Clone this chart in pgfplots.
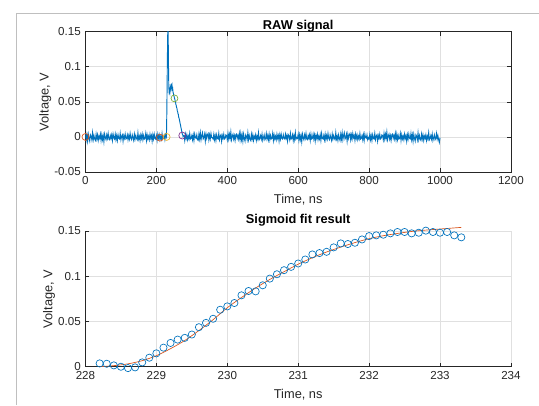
\documentclass[border=0pt]{standalone}
\usepackage{fontspec}
\setmainfont{Liberation Sans}
\usepackage{pgfplots}
\pgfplotsset{compat=1.18}

\definecolor{mblue}{rgb}{0,0.447,0.741}
\definecolor{morange}{rgb}{0.85,0.325,0.098}
\definecolor{myellow}{rgb}{0.929,0.694,0.125}
\definecolor{mpurple}{rgb}{0.494,0.184,0.556}
\definecolor{mgreen}{rgb}{0.466,0.674,0.188}
\definecolor{axcol}{rgb}{0.15,0.15,0.15}

\pgfplotsset{
  mstyle/.style={
    scale only axis,
    tick align=inside,
    major tick length=3pt,
    grid=major,
    grid style={black!12, line width=0.5pt},
    axis line style={axcol, line width=0.5pt},
    every tick/.style={axcol, line width=0.5pt},
    tick label style={font=\fontsize{8.7}{10}\selectfont, text=axcol},
    label style={font=\fontsize{9.6}{11}\selectfont, text=axcol},
    ylabel style={yshift=-4.5pt},
    title style={font=\bfseries\fontsize{9.6}{11}\selectfont, text=black},
    ylabel={Voltage, V},
    xlabel={Time, ns},
  }
}

\begin{document}
\begin{tikzpicture}
\useasboundingbox (0,0) rectangle (404.25pt,303.75pt);
\draw[black!25, line width=0.6pt] (12pt,0) -- (12pt,294pt) -- (404.25pt,294pt);

% RAW signal
\begin{axis}[
  mstyle,
  at={(64.1pt,174.75pt)}, anchor=south west,
  width=319.1pt, height=105.2pt,
  xmin=0, xmax=1200, ymin=-0.05, ymax=0.15,
  xtick={0,200,400,600,800,1000,1200},
  xticklabels={0,200,400,600,800,1000,1200},
  ytick={-0.05,0,0.05,0.1,0.15},
  yticklabels={-0.05,0,0.05,0.1,0.15},
  title={RAW signal},
  title style={yshift=-10pt},
]
\addplot[mblue, line width=0.7pt] coordinates {
(0,0.005)(2,-0.004)(4,0.003)(6,-0.006)(8,0.004)(10,-0.002)(12,-0.006)(14,0.003)(16,0.001)(18,-0.004)(20,0.006)(22,-0.004)(24,0.002)(26,-0.003)(28,-0.005)(30,0.004)(32,-0.003)(34,0.003)(36,-0.005)(38,0.001)
(40,-0.002)(42,0.004)(44,-0.005)(46,0.003)(48,-0.004)(50,0.002)(52,-0.007)(54,0.004)(56,-0.001)(58,-0.004)(60,0.003)(62,-0.002)(64,0.005)(66,-0.003)(68,-0.004)(70,0.002)(72,-0.002)(74,0.003)(76,-0.005)(78,0.004)
(80,-0.001)(82,-0.003)(84,0.004)(86,-0.004)(88,0.002)(90,-0.005)(92,0.003)(94,-0.002)(96,-0.003)(98,0.005)(100,-0.004)(102,0.001)(104,0.003)(106,-0.006)(108,0.002)(110,-0.002)(112,0.004)(114,-0.003)(116,-0.002)(118,0.003)
(120,-0.004)(122,0.002)(124,-0.003)(126,0.005)(128,-0.002)(130,-0.004)(132,0.003)(134,-0.001)(136,-0.005)(138,0.004)(140,-0.003)(142,0.002)(144,-0.002)(146,-0.004)(148,0.006)(150,-0.003)(152,0.001)(154,-0.005)(156,0.003)(158,-0.002)
(160,0.004)(162,-0.004)(164,0.002)(166,-0.003)(168,-0.002)(170,0.005)(172,-0.005)(174,0.003)(176,-0.003)(178,0.001)(180,-0.004)(182,0.004)(184,-0.002)(186,0.002)(188,-0.006)(190,0.003)(192,-0.003)(194,0.004)(196,-0.002)(198,-0.003)
(200,0.002)(202,-0.005)(204,0.004)(206,-0.002)(208,0.003)(210,-0.004)(212,0.001)(214,-0.003)(216,0.005)(218,-0.003)(220,-0.002)(222,0.002)(224,-0.004)(226,0.003)
(228,0.000)(228.6,0.008)(229.3,0.030)(230,0.060)(230.8,0.100)(231.6,0.135)(232.4,0.158)(232.9,0.165)(233.4,0.140)(234,0.110)(234.6,0.085)(235.2,0.070)(236,0.064)(237,0.066)(238,0.063)(239,0.070)(240,0.072)(241,0.069)(242,0.076)(243,0.072)(244,0.074)(245,0.068)(246,0.069)
(247,0.064)(248,0.062)(249,0.059)(250,0.058)(251,0.055)(252,0.054)(253,0.051)(254,0.050)(255,0.046)(256,0.045)(257,0.042)(258,0.041)(259,0.037)(260,0.036)(261,0.033)(262,0.032)(263,0.028)(264,0.027)(265,0.024)(266,0.022)(267,0.019)(268,0.017)(269,0.014)(270,0.012)(271,0.009)(272,0.007)(273,0.004)(274,0.004)(275,0.001)(276,0.002)
(278,0.002)(280,-0.005)(282,0.004)(284,-0.002)(286,0.003)(288,-0.004)(290,0.001)(292,-0.003)(294,0.005)(296,-0.003)(298,-0.002)(300,0.002)(302,-0.004)(304,0.003)(306,-0.005)(308,0.004)(310,-0.001)(312,-0.002)(314,0.003)(316,-0.004)
(318,-0.005)(320,0.004)(322,-0.003)(324,0.006)(326,-0.004)(328,0.002)(330,0.006)(332,-0.003)(334,-0.001)(336,0.004)(338,-0.006)(340,0.004)(342,-0.002)(344,0.003)(346,0.005)(348,-0.004)(350,0.003)(352,-0.003)(354,0.005)(356,-0.001)
(358,-0.001)(360,-0.003)(362,0.004)(364,-0.004)(366,0.002)(368,-0.005)(370,0.003)(372,-0.002)(374,-0.003)(376,0.005)(378,-0.004)(380,0.001)(382,0.003)(384,-0.006)(386,0.002)(388,-0.002)(390,0.004)(392,-0.003)(394,-0.002)(396,0.003)
(398,0.002)(400,-0.004)(402,0.005)(404,-0.003)(406,0.004)(408,-0.002)(410,0.007)(412,-0.004)(414,0.001)(416,0.004)(418,-0.003)(420,0.002)(422,-0.005)(424,0.003)(426,0.004)(428,-0.002)(430,0.002)(432,-0.003)(434,0.005)(436,-0.004)
(438,0.005)(440,-0.004)(442,0.003)(444,-0.006)(446,0.004)(448,-0.002)(450,-0.006)(452,0.003)(454,0.001)(456,-0.004)(458,0.006)(460,-0.004)(462,0.002)(464,-0.003)(466,-0.005)(468,0.004)(470,-0.003)(472,0.003)(474,-0.005)(476,0.001)
(478,-0.002)(480,0.003)(482,-0.005)(484,0.001)(486,-0.003)(488,0.006)(490,-0.004)(492,-0.002)(494,0.002)(496,-0.003)(498,0.004)(500,-0.005)(502,-0.001)(504,0.003)(506,-0.004)(508,-0.002)(510,0.005)(512,-0.003)(514,0.002)(516,-0.004)
(518,0.004)(520,-0.004)(522,0.002)(524,-0.003)(526,-0.002)(528,0.005)(530,-0.005)(532,0.003)(534,-0.003)(536,0.001)(538,-0.004)(540,0.004)(542,-0.002)(544,0.002)(546,-0.006)(548,0.003)(550,-0.003)(552,0.004)(554,-0.002)(556,-0.003)
(558,0.003)(560,-0.002)(562,-0.003)(564,0.004)(566,-0.002)(568,0.002)(570,-0.006)(572,0.003)(574,0.001)(576,-0.004)(578,0.005)(580,-0.003)(582,-0.002)(584,0.003)(586,-0.005)(588,0.002)(590,-0.004)(592,0.006)(594,-0.003)(596,-0.001)
(598,-0.002)(600,0.004)(602,-0.005)(604,0.003)(606,-0.004)(608,0.002)(610,-0.007)(612,0.004)(614,-0.001)(616,-0.004)(618,0.003)(620,-0.002)(622,0.005)(624,-0.003)(626,-0.004)(628,0.002)(630,-0.002)(632,0.003)(634,-0.005)(636,0.004)
(638,-0.003)(640,-0.002)(642,0.004)(644,-0.003)(646,0.003)(648,-0.006)(650,0.002)(652,-0.002)(654,0.004)(656,-0.004)(658,0.001)(660,-0.003)(662,0.003)(664,-0.005)(666,0.005)(668,-0.002)(670,-0.003)(672,0.002)(674,-0.004)(676,0.004)
(678,-0.004)(680,0.002)(682,-0.003)(684,0.005)(686,-0.002)(688,-0.004)(690,0.003)(692,-0.001)(694,-0.005)(696,0.004)(698,-0.003)(700,0.002)(702,-0.002)(704,-0.004)(706,0.006)(708,-0.003)(710,0.001)(712,-0.005)(714,0.003)(716,-0.002)
(718,-0.005)(720,0.004)(722,-0.003)(724,0.006)(726,-0.004)(728,0.002)(730,0.006)(732,-0.003)(734,-0.001)(736,0.004)(738,-0.006)(740,0.004)(742,-0.002)(744,0.003)(746,0.005)(748,-0.004)(750,0.003)(752,-0.003)(754,0.005)(756,-0.001)
(758,0.002)(760,-0.005)(762,0.004)(764,-0.002)(766,0.003)(768,-0.004)(770,0.001)(772,-0.003)(774,0.005)(776,-0.003)(778,-0.002)(780,0.002)(782,-0.004)(784,0.003)(786,-0.005)(788,0.004)(790,-0.001)(792,-0.002)(794,0.003)(796,-0.004)
(798,-0.001)(800,-0.003)(802,0.004)(804,-0.004)(806,0.002)(808,-0.005)(810,0.003)(812,-0.002)(814,-0.003)(816,0.005)(818,-0.004)(820,0.001)(822,0.003)(824,-0.006)(826,0.002)(828,-0.002)(830,0.004)(832,-0.003)(834,-0.002)(836,0.003)
(838,0.002)(840,-0.004)(842,0.005)(844,-0.003)(846,0.004)(848,-0.002)(850,0.007)(852,-0.004)(854,0.001)(856,0.004)(858,-0.003)(860,0.002)(862,-0.005)(864,0.003)(866,0.004)(868,-0.002)(870,0.002)(872,-0.003)(874,0.005)(876,-0.004)
(878,0.004)(880,-0.004)(882,0.002)(884,-0.003)(886,-0.002)(888,0.005)(890,-0.005)(892,0.003)(894,-0.003)(896,0.001)(898,-0.004)(900,0.004)(902,-0.002)(904,0.002)(906,-0.006)(908,0.003)(910,-0.003)(912,0.004)(914,-0.002)(916,-0.003)
(918,0.005)(920,-0.004)(922,0.003)(924,-0.006)(926,0.004)(928,-0.002)(930,-0.006)(932,0.003)(934,0.001)(936,-0.004)(938,0.006)(940,-0.004)(942,0.002)(944,-0.003)(946,-0.005)(948,0.004)(950,-0.003)(952,0.003)(954,-0.005)(956,0.001)
(958,-0.002)(960,0.003)(962,-0.005)(964,0.001)(966,-0.003)(968,0.006)(970,-0.004)(972,-0.002)(974,0.002)(976,-0.003)(978,0.004)(980,-0.005)(982,-0.001)(984,0.003)(986,-0.004)(988,-0.002)(990,0.005)(992,-0.003)(994,0.002)(996,-0.004)
(998,-0.008)(1000,-0.001)
};
\addplot[only marks, mark=o, mark size=2.6pt, morange, line width=0.5pt] coordinates {(0,0)(210,-0.001)};
\addplot[only marks, mark=o, mark size=2.6pt, myellow, line width=0.5pt] coordinates {(229,0)};
\addplot[only marks, mark=o, mark size=2.6pt, mpurple, line width=0.5pt] coordinates {(273,0.002)};
\addplot[only marks, mark=o, mark size=2.6pt, mgreen, line width=0.5pt] coordinates {(251,0.055)};
\end{axis}

% Sigmoid fit
\begin{axis}[
  mstyle,
  at={(64.1pt,28.7pt)}, anchor=south west,
  width=319.1pt, height=101.8pt,
  axis lines*=left,
  axis line style={-},
  clip=false,
  xmin=228, xmax=234, ymin=0, ymax=0.15,
  xtick={228,229,230,231,232,233,234},
  xticklabels={228,229,230,231,232,233,234},
  ytick={0,0.05,0.1,0.15},
  yticklabels={0,0.05,0.1,0.15},
  title={Sigmoid fit result},
  title style={yshift=-6.3pt},
]
\addplot[only marks, mark=o, mark size=2.7pt, mblue, line width=0.5pt] coordinates {
(228.2,0.0037)(228.3,0.0033)(228.4,0.0015)(228.5,0.0000)(228.6,-0.0015)(228.7,-0.0007)(228.8,0.0048)(228.9,0.0100)(229.0,0.0148)(229.1,0.0211)
(229.2,0.0263)(229.3,0.0300)(229.4,0.0319)(229.5,0.0356)(229.6,0.0437)(229.7,0.0485)(229.8,0.0530)(229.9,0.0630)(230.0,0.0667)(230.1,0.0704)
(230.2,0.0789)(230.3,0.0837)(230.4,0.0833)(230.5,0.0900)(230.6,0.0974)(230.7,0.1022)(230.8,0.1067)(230.9,0.1104)(231.0,0.1141)(231.1,0.1185)
(231.2,0.1241)(231.3,0.1256)(231.4,0.1270)(231.5,0.1319)(231.6,0.1363)(231.7,0.1356)(231.8,0.1370)(231.9,0.1407)(232.0,0.1444)(232.1,0.1452)
(232.2,0.1459)(232.3,0.1474)(232.4,0.1489)(232.5,0.1489)(232.6,0.1474)(232.7,0.1481)(232.8,0.1504)(232.9,0.1489)(233.0,0.1481)(233.1,0.1489)
(233.2,0.1452)(233.3,0.1430)
};
\addplot[morange, line width=0.5pt, smooth] coordinates {
(228.2,0.0000)(228.4,0.0012)(228.6,0.0032)(228.8,0.0067)(229.0,0.0122)(229.2,0.0200)(229.4,0.0290)(229.6,0.0400)(229.8,0.0520)(230.0,0.0652)
(230.2,0.0765)(230.4,0.0870)(230.6,0.0965)(230.8,0.1050)(231.0,0.1133)(231.2,0.1205)(231.4,0.1268)(231.6,0.1322)(231.8,0.1372)(232.0,0.1415)
(232.2,0.1448)(232.4,0.1473)(232.6,0.1495)(232.8,0.1510)(233.0,0.1522)(233.3,0.1540)
};
\end{axis}
\end{tikzpicture}
\end{document}
